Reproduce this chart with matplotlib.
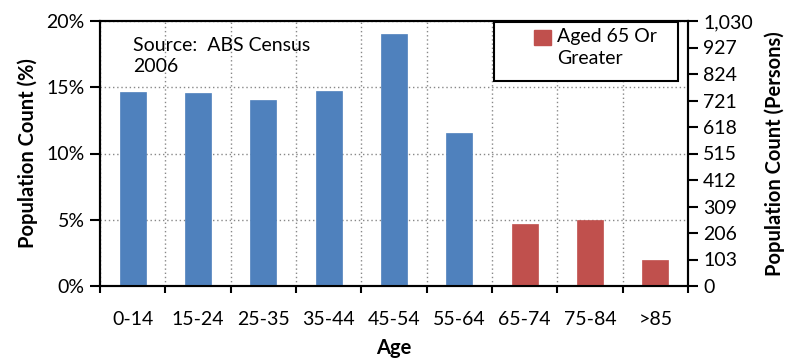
import matplotlib
matplotlib.use("Agg")
import matplotlib.pyplot as plt
from matplotlib.ticker import FixedLocator, FuncFormatter
from matplotlib.patches import Patch, Rectangle
from matplotlib.legend_handler import HandlerPatch

plt.rcParams['font.family'] = ['Lato', 'DejaVu Sans']

categories = ["0-14", "15-24", "25-35", "35-44", "45-54", "55-64", "65-74", "75-84", ">85"]
percent = [14.67, 14.59, 14.04, 14.74, 18.99, 11.52, 4.68, 4.98, 1.96]
is_aged = [False, False, False, False, False, False, True, True, True]
left_ticks = [0, 5, 10, 15, 20]
right_ticks = [0, 103, 206, 309, 412, 515, 618, 721, 824, 927, 1030]

blue = "#4F81BD"
red = "#C0504D"

fig = plt.figure(figsize=(7.87, 3.58), dpi=100)
ax = fig.add_axes([100/787, 1-286/358, 588/787, 265/358])

x = list(range(len(categories)))
colors = [red if a else blue for a in is_aged]
ax.bar(x, percent, width=0.4, color=colors, edgecolor=colors, linewidth=0.5, zorder=3)

ax.set_xlim(-0.5, len(categories)-0.5)
ax.set_ylim(0, 20)
ax.set_yticks(left_ticks)
ax.yaxis.set_major_formatter(FuncFormatter(lambda v, p: f"{int(v)}%"))
ax.set_xticks(x)
ax.set_xticklabels(categories)
ax.tick_params(axis='x', which='major', length=0, pad=18, labelsize=14)
ax.xaxis.set_minor_locator(FixedLocator([i + 0.5 for i in range(-1, len(categories))]))
ax.tick_params(axis='x', which='minor', length=5, width=1.5, direction='out')
ax.tick_params(axis='y', length=7, width=1.5, direction='out', labelsize=14, pad=4)
ax.grid(axis='y', which='major', linestyle=(0, (1, 2)), color='#888888', linewidth=1, zorder=0)
ax.grid(axis='x', which='minor', linestyle=(0, (1, 2)), color='#888888', linewidth=1, zorder=0)
for s in ax.spines.values():
    s.set_linewidth(1.5)

ax.set_ylabel("Population Count (%)", fontsize=14.5, fontweight='bold', labelpad=6)
ax.set_xlabel("Age", fontsize=14.5, fontweight='bold', labelpad=7)

ax2 = ax.twinx()
ax2.set_ylim(0, 1030)
ax2.set_yticks(right_ticks)
ax2.yaxis.set_major_formatter(FuncFormatter(lambda v, p: f"{int(v):,}"))
ax2.tick_params(axis='y', length=7, width=1.5, direction='out', labelsize=14, pad=4)
for s in ax2.spines.values():
    s.set_linewidth(1.5)
ax2.set_ylabel("Population Count (Persons)", fontsize=14.5, fontweight='bold', labelpad=8)

ax.text(33/588, (286-37)/265, "Source:  ABS Census\n2006", transform=ax.transAxes, fontsize=14,
        va='top', ha='left', linespacing=1.3)

# legend frame
box = Rectangle(((494-100)/588, (286-81)/265), (678-494)/588, (81-22)/265,
                transform=ax.transAxes, facecolor='white', edgecolor='black',
                linewidth=1.5, zorder=5, clip_on=False)
ax2.add_patch(box)


def top_square(legend, orig_handle, xdescent, ydescent, width, height, fontsize):
    return Rectangle((-xdescent, -ydescent + 7.5), width, height)


leg = ax2.legend(handles=[Patch(color=red)], labels=["Aged 65 Or\nGreater"],
                 loc='upper left', fontsize=14, frameon=False,
                 handlelength=0.85, handleheight=0.85, borderpad=0.0,
                 borderaxespad=0.0, handletextpad=0.35, labelspacing=0,
                 handler_map={Patch: HandlerPatch(patch_func=top_square)})
leg.set_bbox_to_anchor(((534-100)/588, (286-28)/265), transform=ax.transAxes)
leg.set_zorder(6)
for t in leg.get_texts():
    t.set_multialignment('left')
    t.set_linespacing(1.35)

fig.savefig("out.png", dpi=100)
